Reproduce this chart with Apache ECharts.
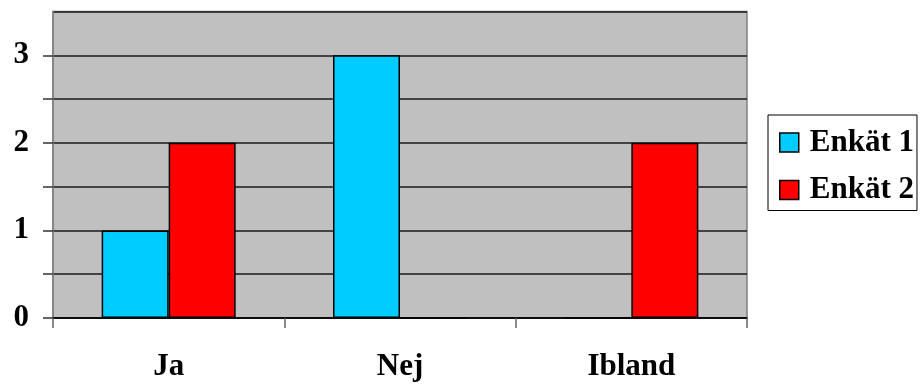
<!DOCTYPE html>
<html>
<head>
<meta charset="utf-8">
<script src="https://cdn.jsdelivr.net/npm/echarts@6/dist/echarts.min.js"></script>
<style>
  html, body { margin: 0; padding: 0; background: #ffffff; }
  #chart { width: 920px; height: 389px; }
</style>
</head>
<body>
<div id="chart"></div>
<script>
// Survey answers per category
const categories = ['Ja', 'Nej', 'Ibland'];
const seriesNames = ['Enkät 1', 'Enkät 2'];
const enkat1 = [1, 3, 0];
const enkat2 = [2, 0, 2];
const yMax = 3.5;
const yStep = 0.5;

const FONT = '"Liberation Serif", "Times New Roman", serif';
const textBase = { fontFamily: FONT, fontWeight: 'bold', fontSize: 31, color: '#000' };

const chart = echarts.init(document.getElementById('chart'), null, { renderer: 'canvas' });

chart.setOption({
  animation: false,
  backgroundColor: '#ffffff',
  grid: {
    left: 53, right: 173, top: 11.5, bottom: 71,
    show: true,
    backgroundColor: '#c0c0c0',
    borderColor: '#808080',
    borderWidth: 1.5
  },
  legend: {
    orient: 'vertical',
    left: 768, top: 115,
    padding: [12, 3, 5, 11],
    itemGap: 16.5,
    itemWidth: 19, itemHeight: 19,
    icon: 'rect',
    backgroundColor: '#ffffff',
    borderColor: '#000000',
    borderWidth: 1,
    textStyle: Object.assign({}, textBase, { lineHeight: 31, padding: [0, 0, 0, 6] }),
    itemStyle: { borderColor: '#000', borderWidth: 1.5 },
    data: seriesNames
  },
  xAxis: {
    type: 'category',
    data: categories,
    boundaryGap: true,
    axisLine: { show: true, lineStyle: { color: '#000', width: 1.5 } },
    axisTick: { show: true, length: 10, lineStyle: { color: '#666', width: 1.5 } },
    axisLabel: Object.assign({}, textBase, { margin: 33 }),
    splitLine: { show: false }
  },
  yAxis: {
    type: 'value',
    min: 0, max: yMax, interval: yStep,
    axisLine: { show: true, lineStyle: { color: '#808080', width: 1.5 } },
    axisTick: { show: true, length: 10, lineStyle: { color: '#333', width: 1.5 } },
    axisLabel: Object.assign({}, textBase, {
      margin: 24,
      showMaxLabel: false,
      formatter: v => (Number.isInteger(v) ? String(v) : '')
    }),
    splitLine: { show: true, lineStyle: { color: '#1a1a1a', width: 1.5 } }
  },
  series: [
    {
      name: seriesNames[0], type: 'bar', data: enkat1,
      barWidth: 67, barGap: '0%',
      itemStyle: { color: '#00ccff', borderColor: '#000', borderWidth: 1.5 }
    },
    {
      name: seriesNames[1], type: 'bar', data: enkat2,
      barWidth: 67, barGap: '0%',
      itemStyle: { color: '#ff0000', borderColor: '#000', borderWidth: 1.5 }
    }
  ]
});
</script>
</body>
</html>
